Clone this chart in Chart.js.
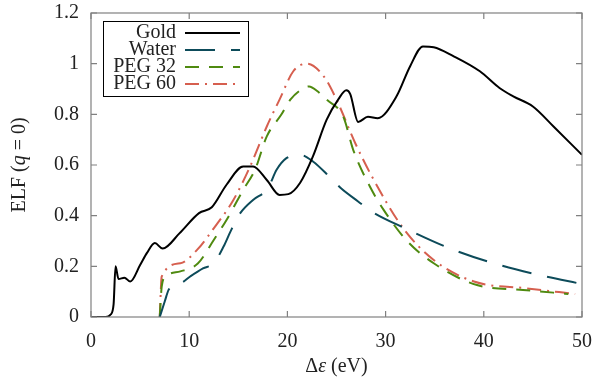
<!DOCTYPE html>
<html>
<head>
<meta charset="utf-8">
<script src="https://cdn.jsdelivr.net/npm/chart.js@4/dist/chart.umd.min.js"></script>
<style>
  html, body { margin: 0; padding: 0; background: #fff; }
  #wrap { width: 593px; height: 385px; }
</style>
</head>
<body>
<div id="wrap"><canvas id="elfChart"></canvas></div>
<script>
// values
const goldX = [0, 1.5, 2.0, 2.3, 2.5, 2.8, 3.4, 4.0, 5.0, 5.7, 6.5, 7.3, 9.0, 11.0, 12.3, 13.8, 15.5, 16.5, 17.9, 19.2, 20.1, 21.3, 22.6, 24.0, 25.2, 26.0, 26.4, 27.2, 28.2, 29.2, 31.1, 32.5, 33.8, 34.9, 36.9, 39.6, 41.6, 43.0, 45.0, 47.1, 50];
const goldY = [0, 0, 0.01, 0.05, 0.20, 0.15, 0.155, 0.14, 0.205, 0.253, 0.292, 0.27, 0.33, 0.41, 0.433, 0.522, 0.594, 0.594, 0.541, 0.482, 0.485, 0.53, 0.634, 0.779, 0.86, 0.895, 0.88, 0.77, 0.79, 0.785, 0.87, 0.99, 1.068, 1.065, 1.03, 0.97, 0.904, 0.871, 0.831, 0.752, 0.64];

const waterX = [7.0, 7.5, 7.9, 8.6, 9.2, 10.1, 11.4, 12.5, 13.5, 14.2, 15.2, 16.5, 17.9, 18.2, 18.9, 19.9, 21.3, 22.6, 24.3, 25.4, 27.2, 28.6, 32.0, 36.6, 41.0, 45.6, 50];
const waterY = [0, 0.06, 0.107, 0.13, 0.135, 0.16, 0.192, 0.212, 0.278, 0.337, 0.41, 0.462, 0.502, 0.522, 0.581, 0.627, 0.64, 0.614, 0.553, 0.51, 0.456, 0.416, 0.35, 0.27, 0.212, 0.166, 0.13];

const peg32X = [7.0, 7.2, 7.6, 9.1, 10.9, 12.5, 13.8, 15.5, 16.7, 17.9, 19.4, 20.3, 21.5, 22.2, 23.1, 24.0, 25.7, 26.7, 28.4, 29.8, 32.1, 34.9, 39.3, 44.0, 48.6];
const peg32Y = [0, 0.12, 0.16, 0.18, 0.212, 0.304, 0.383, 0.502, 0.581, 0.713, 0.80, 0.858, 0.90, 0.91, 0.89, 0.858, 0.79, 0.66, 0.515, 0.423, 0.304, 0.212, 0.126, 0.107, 0.091];

const peg60X = [7.0, 7.2, 9.1, 10.8, 12.5, 14.5, 16.2, 17.9, 19.2, 20.6, 22.0, 23.7, 25.0, 26.9, 28.6, 31.8, 34.9, 39.0, 44.4, 49.3];
const peg60Y = [0, 0.16, 0.212, 0.265, 0.35, 0.462, 0.594, 0.752, 0.858, 0.97, 1.0, 0.95, 0.858, 0.687, 0.555, 0.35, 0.225, 0.14, 0.113, 0.091];

const seriesNames = ['Gold', 'Water', 'PEG 32', 'PEG 60'];
const xTicks = [0, 10, 20, 30, 40, 50];
const yTicks = [0, 0.2, 0.4, 0.6, 0.8, 1, 1.2];

const colors = ['#000000', '#0d4b5a', '#4f8a10', '#d65f4f'];
const dashes = [[], [30, 16], [14, 10], [14, 6, 2, 6]];
const serif = '"Liberation Serif", "DejaVu Serif", serif';
const fontPx = 20;

function pts(xs, ys) { return xs.map((x, i) => ({ x: x, y: ys[i] })); }
const allData = [pts(goldX, goldY), pts(waterX, waterY), pts(peg32X, peg32Y), pts(peg60X, peg60Y)];

const frame = {
    id: 'frame',
    afterDraw(chart) {
        const ctx = chart.ctx;
        const a = chart.chartArea;
        const xs = chart.scales.x, ys = chart.scales.y;
        ctx.save();
        // box + inward ticks on all sides
        ctx.strokeStyle = '#808080';
        ctx.lineWidth = 1.2;
        ctx.strokeRect(a.left, a.top, a.right - a.left, a.bottom - a.top);
        const tl = 6;
        ctx.beginPath();
        xTicks.forEach(v => {
            const px = xs.getPixelForValue(v);
            ctx.moveTo(px, a.bottom); ctx.lineTo(px, a.bottom - tl);
            ctx.moveTo(px, a.top); ctx.lineTo(px, a.top + tl);
        });
        yTicks.forEach(v => {
            const py = ys.getPixelForValue(v);
            ctx.moveTo(a.left, py); ctx.lineTo(a.left + tl, py);
            ctx.moveTo(a.right, py); ctx.lineTo(a.right - tl, py);
        });
        ctx.stroke();

        // axis titles with italic parts
        ctx.fillStyle = '#222';
        ctx.textBaseline = 'middle';
        function mixed(parts, cx, cy) {
            let w = 0;
            parts.forEach(p => { ctx.font = (p[1] ? 'italic ' : '') + fontPx + 'px ' + serif; w += ctx.measureText(p[0]).width; });
            let x = cx - w / 2;
            ctx.textAlign = 'left';
            parts.forEach(p => {
                ctx.font = (p[1] ? 'italic ' : '') + fontPx + 'px ' + serif;
                ctx.fillText(p[0], x, cy);
                x += ctx.measureText(p[0]).width;
            });
        }
        mixed([['\u0394', false], ['\u03b5', true], [' (eV)', false]], (a.left + a.right) / 2, 367);
        ctx.save();
        ctx.translate(20, (a.top + a.bottom) / 2);
        ctx.rotate(-Math.PI / 2);
        mixed([['ELF (', false], ['q', true], [' = 0)', false]], 0, 0);
        ctx.restore();

        // legend
        const lx = 103, ly = 21, lw = 145, lh = 75;
        ctx.fillStyle = '#fff';
        ctx.fillRect(lx, ly, lw, lh);
        ctx.strokeStyle = '#000';
        ctx.lineWidth = 1;
        ctx.strokeRect(lx + 0.5, ly + 0.5, lw, lh);
        seriesNames.forEach((name, i) => {
            const cy = ly + 12 + i * 17;
            ctx.font = fontPx + 'px ' + serif;
            ctx.fillStyle = '#222';
            ctx.textAlign = 'right';
            ctx.fillText(name, 176, cy);
            ctx.strokeStyle = colors[i];
            ctx.lineWidth = 2;
            ctx.setLineDash(dashes[i]);
            ctx.beginPath();
            ctx.moveTo(185, cy);
            ctx.lineTo(240, cy);
            ctx.stroke();
            ctx.setLineDash([]);
        });
        ctx.restore();
    }
};

new Chart(document.getElementById('elfChart').getContext('2d'), {
    type: 'scatter',
    data: {
        datasets: seriesNames.map((name, i) => ({
            label: name,
            data: allData[i],
            showLine: true,
            borderColor: colors[i],
            borderWidth: 2,
            borderDash: dashes[i],
            pointRadius: 0,
            cubicInterpolationMode: 'monotone',
            fill: false
        }))
    },
    options: {
        responsive: true,
        maintainAspectRatio: false,
        animation: false,
        layout: { padding: { top: 13, right: 11, left: 0, bottom: 0 } },
        plugins: { legend: { display: false }, tooltip: { enabled: false } },
        scales: {
            x: {
                type: 'linear',
                min: 0, max: 50,
                afterFit: s => { s.height = 68; s.paddingLeft = 0; s.paddingRight = 0; },
                afterBuildTicks: s => { s.ticks = xTicks.map(v => ({ value: v })); },
                grid: { display: false },
                border: { display: false },
                ticks: { color: '#222', font: { family: serif, size: fontPx }, padding: 5, maxRotation: 0 }
            },
            y: {
                type: 'linear',
                min: 0, max: 1.2,
                afterFit: s => { s.width = 91; s.paddingTop = 0; s.paddingBottom = 0; },
                afterBuildTicks: s => { s.ticks = yTicks.map(v => ({ value: v })); },
                grid: { display: false },
                border: { display: false },
                ticks: { color: '#222', font: { family: serif, size: fontPx }, padding: 4, callback: v => String(v) }
            }
        }
    },
    plugins: [frame]
});
</script>
</body>
</html>
